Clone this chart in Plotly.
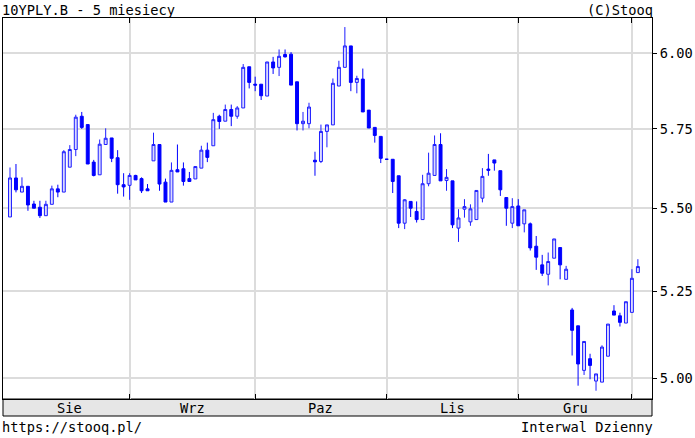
import math
import plotly.graph_objects as go

# ---- data (10YPLY.B daily, 5 months) ----
open_ = [5.473, 5.594, 5.550, 5.568, 5.513, 5.503, 5.477, 5.512, 5.560, 5.550,
         5.628, 5.684, 5.791, 5.764, 5.644, 5.604, 5.700, 5.721, 5.658, 5.573,
         5.571, 5.602, 5.592, 5.560, 5.648, 5.700, 5.581, 5.519, 5.620, 5.623,
         5.592, 5.591, 5.625, 5.682, 5.696, 5.791, 5.775, 5.813, 5.791, 5.818,
         5.954, 5.896, 5.896, 5.857, 5.970, 5.952, 5.995, 5.996, 5.904, 5.767,
         5.767, 5.650, 5.646, 5.742, 5.763, 5.890, 5.952, 6.024, 5.902, 5.913,
         5.811, 5.755, 5.726, 5.653, 5.653, 5.601, 5.454, 5.521, 5.490, 5.465,
         5.576, 5.602, 5.700, 5.586, 5.585, 5.439, 5.497, 5.458, 5.465, 5.531,
         5.622, 5.651, 5.617, 5.533, 5.454, 5.507, 5.452, 5.452, 5.384, 5.328,
         5.300, 5.348, 5.380, 5.285, 5.195, 5.149, 5.022, 5.055, 4.992, 4.989,
         5.062, 5.192, 5.178, 5.157, 5.188, 5.305]
high = [5.627, 5.638, 5.596, 5.568, 5.523, 5.523, 5.523, 5.570, 5.573, 5.682,
        5.698, 5.796, 5.805, 5.764, 5.651, 5.716, 5.752, 5.721, 5.682, 5.609,
        5.609, 5.604, 5.596, 5.575, 5.738, 5.700, 5.592, 5.643, 5.700, 5.643,
        5.613, 5.630, 5.696, 5.706, 5.802, 5.796, 5.829, 5.829, 5.824, 5.963,
        5.954, 5.921, 5.896, 5.970, 5.987, 6.012, 6.012, 6.003, 5.904, 5.805,
        5.835, 5.677, 5.764, 5.763, 5.915, 5.974, 6.088, 6.024, 5.924, 5.948,
        5.811, 5.755, 5.726, 5.653, 5.653, 5.601, 5.528, 5.521, 5.521, 5.604,
        5.674, 5.729, 5.736, 5.622, 5.585, 5.497, 5.528, 5.512, 5.555, 5.625,
        5.670, 5.651, 5.617, 5.533, 5.531, 5.528, 5.495, 5.456, 5.415, 5.358,
        5.365, 5.406, 5.380, 5.325, 5.201, 5.149, 5.104, 5.069, 5.012, 5.093,
        5.154, 5.209, 5.187, 5.219, 5.315, 5.345]
low = [5.473, 5.549, 5.550, 5.492, 5.500, 5.470, 5.477, 5.512, 5.534, 5.550,
       5.628, 5.663, 5.750, 5.638, 5.599, 5.604, 5.700, 5.644, 5.545, 5.536,
       5.526, 5.588, 5.547, 5.554, 5.648, 5.554, 5.519, 5.519, 5.613, 5.570,
       5.583, 5.591, 5.625, 5.644, 5.696, 5.750, 5.775, 5.759, 5.783, 5.818,
       5.882, 5.873, 5.844, 5.857, 5.930, 5.923, 5.985, 5.893, 5.745, 5.745,
       5.752, 5.601, 5.641, 5.691, 5.763, 5.890, 5.952, 5.873, 5.866, 5.805,
       5.753, 5.706, 5.641, 5.653, 5.547, 5.439, 5.436, 5.473, 5.456, 5.465,
       5.568, 5.602, 5.585, 5.554, 5.439, 5.397, 5.471, 5.446, 5.465, 5.518,
       5.601, 5.617, 5.538, 5.446, 5.439, 5.446, 5.426, 5.371, 5.313, 5.295,
       5.267, 5.348, 5.285, 5.285, 5.064, 4.979, 5.009, 4.997, 4.965, 4.989,
       5.062, 5.180, 5.147, 5.157, 5.188, 5.305]
close = [5.594, 5.557, 5.568, 5.510, 5.500, 5.477, 5.512, 5.560, 5.550, 5.677,
         5.684, 5.788, 5.755, 5.638, 5.602, 5.701, 5.720, 5.656, 5.573, 5.566,
         5.602, 5.588, 5.554, 5.554, 5.700, 5.575, 5.519, 5.618, 5.613, 5.583,
         5.583, 5.630, 5.682, 5.659, 5.780, 5.774, 5.813, 5.791, 5.818, 5.952,
         5.902, 5.893, 5.858, 5.970, 5.950, 5.989, 5.987, 5.893, 5.767, 5.775,
         5.821, 5.645, 5.742, 5.763, 5.899, 5.952, 6.024, 5.902, 5.915, 5.805,
         5.753, 5.729, 5.656, 5.653, 5.583, 5.454, 5.526, 5.500, 5.465, 5.576,
         5.609, 5.700, 5.585, 5.596, 5.449, 5.470, 5.505, 5.498, 5.555, 5.599,
         5.618, 5.641, 5.557, 5.500, 5.505, 5.446, 5.495, 5.379, 5.351, 5.303,
         5.338, 5.406, 5.328, 5.315, 5.136, 5.040, 5.104, 5.036, 5.012, 5.088,
         5.154, 5.180, 5.159, 5.219, 5.288, 5.323]

# trading-day index where each month starts (Aug, Sep, Oct, Nov, Dec, Jan)
month_starts = [0, 20, 41, 63, 85, 104]
month_labels = ["Sie", "Wrz", "Paz", "Lis", "Gru"]

y_ticks = [5.00, 5.25, 5.50, 5.75, 6.00]
y_tick_labels = ["5.00", "5.25", "5.50", "5.75", "6.00"]
y_min, y_max = 4.942, 6.119
x_min, x_max = -1.17, 107.36

title_text = "10YPLY.B - 5 miesiecy"
copyright_text = "(C)Stooq"
footer_left = "https://stooq.pl/"
footer_right = "Interwal Dzienny"

FONT = "DejaVu Sans Mono"
FS = 13.7
GRID = "#dcdcdc"

days = list(range(len(open_)))

fig = go.Figure()
fig.add_trace(go.Candlestick(
    x=days, open=open_, high=high, low=low, close=close,
    increasing=dict(line=dict(color="#1e1eff", width=1), fillcolor="#dadaff"),
    decreasing=dict(line=dict(color="#0000ff", width=1), fillcolor="#0000ff"),
    whiskerwidth=0,
    showlegend=False,
))

plot_h = 438 - 18 - 39
strip_h = 17

annotations = []
for i, lab in enumerate(month_labels):
    mid = (month_starts[i] + month_starts[i + 1]) / 2
    annotations.append(dict(
        x=mid, xref="x", y=-8.5 / plot_h, yref="paper",
        text=lab, showarrow=False, xanchor="center", yanchor="middle",
        font=dict(family=FONT, size=FS, color="black")))

annotations += [
    dict(x=0, xref="paper", y=1, yref="paper", text=title_text, showarrow=False,
         xanchor="left", yanchor="bottom", xshift=-3, yshift=-2,
         font=dict(family=FONT, size=FS, color="black")),
    dict(x=1, xref="paper", y=1, yref="paper", text=copyright_text, showarrow=False,
         xanchor="right", yanchor="bottom", xshift=3, yshift=-2,
         font=dict(family=FONT, size=FS, color="black")),
    dict(x=0, xref="paper", y=-27.5 / plot_h, yref="paper", text=footer_left, showarrow=False,
         xanchor="left", yanchor="middle", xshift=-3,
         font=dict(family=FONT, size=FS, color="black")),
    dict(x=1, xref="paper", y=-27.5 / plot_h, yref="paper", text=footer_right, showarrow=False,
         xanchor="right", yanchor="middle", xshift=3,
         font=dict(family=FONT, size=FS, color="black")),
]

fig.update_layout(
    template="none",
    width=695, height=438,
    margin=dict(l=3, r=43, t=18, b=39, pad=0, autoexpand=False),
    paper_bgcolor="white", plot_bgcolor="white",
    font=dict(family=FONT, size=FS, color="black"),
    showlegend=False,
    annotations=annotations,
    shapes=[dict(type="rect", xref="paper", yref="paper",
                 x0=0, x1=1, y0=-strip_h / plot_h, y1=0,
                 fillcolor="#e6e6e6", line=dict(color="black", width=1), layer="below")],
    xaxis=dict(
        range=[x_min, x_max], rangeslider=dict(visible=False), automargin=False,
        tickmode="array", tickvals=month_starts[1:], showticklabels=False,
        ticks="inside", ticklen=5, tickcolor="black", tickwidth=1,
        showgrid=True, gridcolor=GRID, gridwidth=2,
        showline=True, linecolor="black", linewidth=1, mirror="ticks",
        zeroline=False, fixedrange=True,
    ),
    yaxis=dict(
        type="log", range=[math.log10(y_min), math.log10(y_max)], side="right",
        automargin=False,
        tickmode="array", tickvals=y_ticks, ticktext=y_tick_labels,
        ticks="outside", ticklen=4, tickcolor="black", tickwidth=1,
        tickfont=dict(family=FONT, size=FS, color="black"),
        showgrid=True, gridcolor=GRID, gridwidth=2,
        showline=True, linecolor="black", linewidth=1, mirror=True,
        zeroline=False, fixedrange=True,
    ),
    yaxis2=dict(
        type="log", range=[math.log10(y_min), math.log10(y_max)], side="left",
        overlaying="y", automargin=False, tickmode="array", tickvals=y_ticks,
        ticks="inside", ticklen=4, tickcolor="black", tickwidth=1,
        showticklabels=False, showgrid=False, showline=False, zeroline=False,
        fixedrange=True,
    ),
)

fig.write_html(
    "out.html",
    config={"displayModeBar": False},
    post_script="document.body.style.margin='0';document.body.style.overflow='hidden';",
)
